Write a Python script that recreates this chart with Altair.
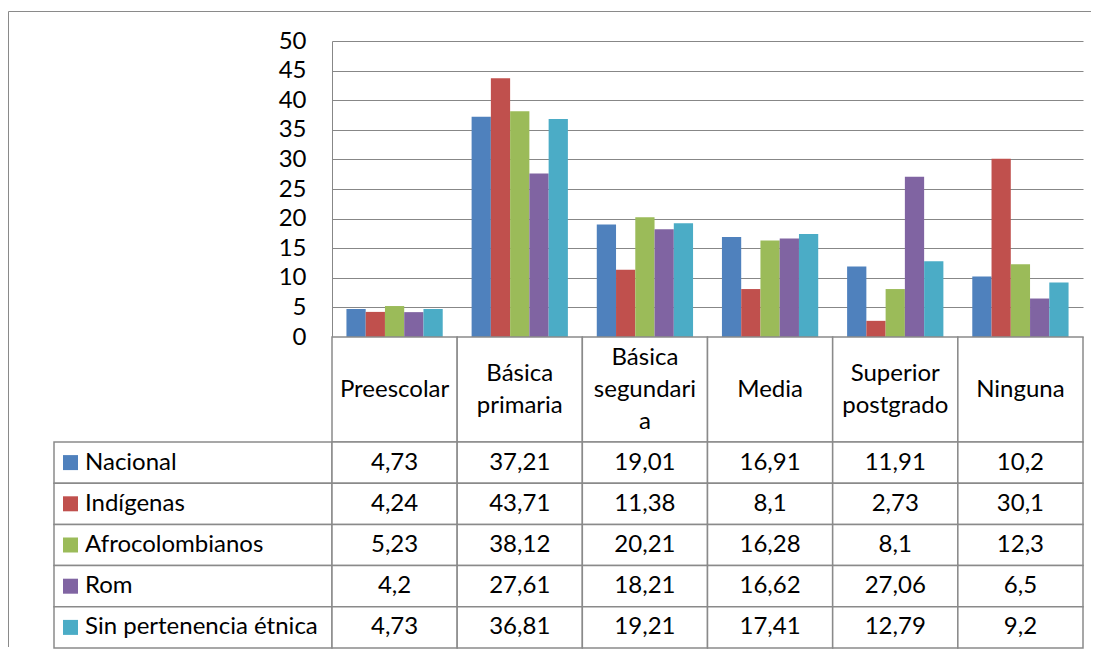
import altair as alt
import pandas as pd

categories = ["Preescolar", "Básica primaria", "Básica segundaria", "Media", "Superior postgrado", "Ninguna"]
header_labels = ["Preescolar", "Básica\nprimaria", "Básica\nsegundari\na", "Media", "Superior\npostgrado", "Ninguna"]
series = ["Nacional", "Indígenas", "Afrocolombianos", "Rom", "Sin pertenencia étnica"]
colors = ["#4F81BD", "#C0504D", "#9BBB59", "#8064A2", "#4BACC6"]
nacional = [4.73, 37.21, 19.01, 16.91, 11.91, 10.2]
indigenas = [4.24, 43.71, 11.38, 8.1, 2.73, 30.1]
afrocolombianos = [5.23, 38.12, 20.21, 16.28, 8.1, 12.3]
rom = [4.2, 27.61, 18.21, 16.62, 27.06, 6.5]
sin_pertenencia = [4.73, 36.81, 19.21, 17.41, 12.79, 9.2]
y_ticks = [0, 5, 10, 15, 20, 25, 30, 35, 40, 45, 50]

FONT = "Lato"
FS = 24
LH = 32
GRID = "#878787"
LINE = "#8a8a8a"

rows = []
for s, vals in zip(series, [nacional, indigenas, afrocolombianos, rom, sin_pertenencia]):
    for c, v in zip(categories, vals):
        rows.append({"cat": c, "series": s, "value": v, "label": str(v).replace(".", ",")})
df = pd.DataFrame(rows)
hdr_df = pd.DataFrame({"cat": categories, "hdr": header_labels,
                       "nlines": [h.count("\n") + 1 for h in header_labels]})
ser_df = pd.DataFrame({"series": series})

PW, PH = 751, 296
HDR_H, ROWS_H = 105, 206
LW = 278

color = alt.Color("series:N", scale=alt.Scale(domain=series, range=colors), legend=None)

bars = alt.Chart(df).mark_bar().encode(
    x=alt.X("cat:N", sort=categories, axis=None,
            scale=alt.Scale(domain=categories, paddingInner=0.2308, paddingOuter=0.1154)),
    xOffset=alt.XOffset("series:N", sort=series,
                        scale=alt.Scale(domain=series, paddingInner=0, paddingOuter=0)),
    y=alt.Y("value:Q", scale=alt.Scale(domain=[0, 50], nice=False),
            axis=alt.Axis(values=y_ticks, title=None, grid=True, gridColor=GRID, gridWidth=1,
                          domainColor=GRID, domainWidth=1, ticks=False, labelFont=FONT,
                          labelFontSize=FS, labelColor="black", labelPadding=26)),
    color=color,
).properties(width=PW, height=PH)

cx = alt.X("cat:N", sort=categories, axis=None,
           scale=alt.Scale(domain=categories, paddingInner=0, paddingOuter=0))
hdr_text_layers = []
for n in [1, 2, 3]:
    hdr_text_layers.append(
        alt.Chart(hdr_df).transform_filter(alt.datum.nlines == n).mark_text(
            font=FONT, fontSize=FS, lineBreak="\n", lineHeight=LH,
            baseline="middle", align="center", color="black").encode(
            x=cx, y=alt.value(HDR_H / 2 - (n - 1) * LH / 2), text="hdr:N"))
header = alt.layer(
    alt.Chart(hdr_df).mark_rect(fill="white", stroke=LINE, strokeWidth=1.5).encode(
        x=cx, y=alt.value(0), y2=alt.value(HDR_H)),
    *hdr_text_layers,
).properties(width=PW, height=HDR_H)

sy = alt.Y("series:N", sort=series, axis=None,
           scale=alt.Scale(domain=series, paddingInner=0, paddingOuter=0))
values = alt.layer(
    alt.Chart(df).mark_rect(fill="white", stroke=LINE, strokeWidth=1.5).encode(x=cx, y=sy),
    alt.Chart(df).mark_text(font=FONT, fontSize=FS, baseline="middle", align="center",
                            color="black").encode(x=cx, y=sy, text="label:N"),
).properties(width=PW, height=ROWS_H)

labels = alt.layer(
    alt.Chart(ser_df).mark_rect(fill="white", stroke=LINE, strokeWidth=1.5).encode(
        x=alt.value(0), x2=alt.value(LW), y=sy),
    alt.Chart(ser_df).mark_square(size=225, opacity=1).encode(
        x=alt.value(16.5), y=sy, color=color),
    alt.Chart(ser_df).mark_text(font=FONT, fontSize=FS, baseline="middle", align="left",
                                color="black").encode(x=alt.value(31), y=sy, text="series:N"),
).properties(width=LW, height=ROWS_H)

frame_df = pd.DataFrame({"a": [0]})
frame = alt.layer(
    alt.Chart(frame_df).mark_rule(color="#8a8a8a", strokeWidth=1).encode(
        x=alt.value(-45.5), x2=alt.value(1037), y=alt.value(-29.5)),
    alt.Chart(frame_df).mark_rule(color="#8a8a8a", strokeWidth=1).encode(
        x=alt.value(-45.5), y=alt.value(-29.5), y2=alt.value(606)),
).properties(width=LW, height=PH)

blank = alt.Chart(frame_df).mark_point(opacity=0).encode(
    x=alt.value(0), y=alt.value(0)).properties(width=LW, height=HDR_H)

chart = alt.concat(frame, bars, blank, header, labels, values,
                   columns=2, spacing=0, bounds="flush").properties(
    padding={"left": 0, "top": 3, "right": 0, "bottom": 0},
    background="white",
).configure(font=FONT).configure_view(strokeWidth=0, stroke="transparent")

chart.save("out.html", embed_options={"renderer": "svg", "actions": False})
